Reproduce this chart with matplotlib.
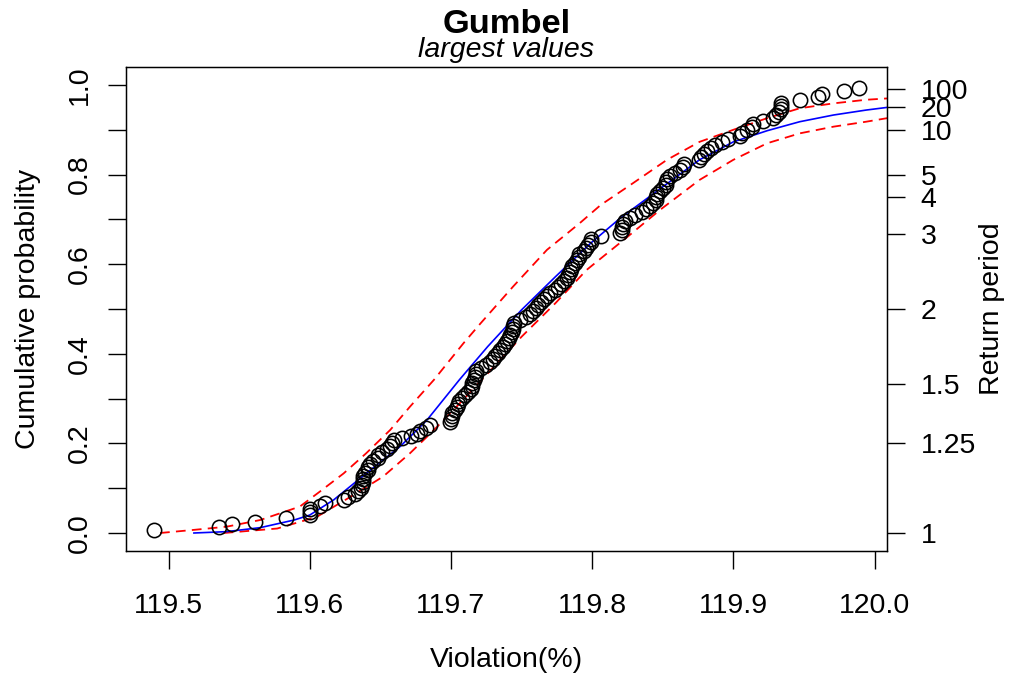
import numpy as np
import matplotlib
matplotlib.use('Agg')
import matplotlib.pyplot as plt

plt.rcParams['font.family'] = ['Liberation Sans', 'DejaVu Sans']
plt.rcParams['lines.scale_dashes'] = False

# observed violations (sorted) and their cumulative probability
violation = [119.490, 119.536, 119.545, 119.561, 119.583, 119.600, 119.600, 119.600, 119.607, 119.611,
             119.624, 119.627, 119.632, 119.634, 119.636, 119.637, 119.638, 119.638, 119.638, 119.639,
             119.641, 119.641, 119.643, 119.645, 119.648, 119.648, 119.651, 119.655, 119.657, 119.658,
             119.660, 119.665, 119.672, 119.676, 119.678, 119.682, 119.685, 119.699, 119.700, 119.701,
             119.701, 119.703, 119.704, 119.705, 119.706, 119.708, 119.710, 119.712, 119.714, 119.715,
             119.715, 119.716, 119.717, 119.718, 119.718, 119.721, 119.725, 119.728, 119.730, 119.731,
             119.733, 119.735, 119.737, 119.738, 119.740, 119.741, 119.742, 119.743, 119.744, 119.744,
             119.745, 119.749, 119.753, 119.756, 119.758, 119.760, 119.762, 119.764, 119.766, 119.768,
             119.770, 119.774, 119.776, 119.778, 119.780, 119.782, 119.783, 119.784, 119.785, 119.786,
             119.788, 119.789, 119.791, 119.791, 119.794, 119.796, 119.797, 119.799, 119.799, 119.806,
             119.820, 119.821, 119.821, 119.822, 119.823, 119.827, 119.830, 119.835, 119.838, 119.841,
             119.843, 119.845, 119.845, 119.846, 119.848, 119.850, 119.852, 119.852, 119.853, 119.855,
             119.859, 119.862, 119.864, 119.865, 119.876, 119.877, 119.879, 119.881, 119.884, 119.887,
             119.892, 119.896, 119.905, 119.906, 119.910, 119.913, 119.914, 119.921, 119.928, 119.930,
             119.932, 119.934, 119.934, 119.934, 119.947, 119.960, 119.963, 119.978, 119.989]
cum_prob = [0.007, 0.013, 0.019, 0.025, 0.033, 0.040, 0.047, 0.054, 0.060, 0.067,
            0.074, 0.080, 0.087, 0.094, 0.100, 0.107, 0.114, 0.121, 0.127, 0.134,
            0.141, 0.147, 0.154, 0.161, 0.167, 0.174, 0.181, 0.188, 0.194, 0.201,
            0.208, 0.212, 0.217, 0.221, 0.228, 0.234, 0.241, 0.248, 0.254, 0.261,
            0.268, 0.275, 0.281, 0.288, 0.295, 0.301, 0.308, 0.315, 0.321, 0.328,
            0.335, 0.342, 0.348, 0.355, 0.362, 0.368, 0.375, 0.382, 0.388, 0.395,
            0.402, 0.408, 0.415, 0.422, 0.429, 0.435, 0.442, 0.449, 0.455, 0.462,
            0.469, 0.475, 0.482, 0.489, 0.496, 0.502, 0.509, 0.516, 0.522, 0.529,
            0.536, 0.542, 0.549, 0.556, 0.563, 0.569, 0.576, 0.583, 0.589, 0.596,
            0.603, 0.609, 0.616, 0.623, 0.629, 0.636, 0.643, 0.650, 0.656, 0.663,
            0.670, 0.676, 0.683, 0.690, 0.696, 0.703, 0.710, 0.717, 0.723, 0.730,
            0.737, 0.743, 0.750, 0.757, 0.763, 0.770, 0.777, 0.783, 0.790, 0.797,
            0.804, 0.810, 0.817, 0.824, 0.833, 0.839, 0.846, 0.853, 0.859, 0.866,
            0.873, 0.879, 0.886, 0.893, 0.900, 0.906, 0.913, 0.920, 0.926, 0.933,
            0.940, 0.946, 0.953, 0.960, 0.967, 0.973, 0.980, 0.987, 0.993]

# fitted Gumbel curve (blue)
fit_x = [119.518, 119.541, 119.565, 119.589, 119.600, 119.617, 119.640, 119.664, 119.683, 119.706,
         119.726, 119.750, 119.774, 119.799, 119.820, 119.845, 119.876, 119.900, 119.924, 119.947,
         119.971, 119.994, 120.009]
fit_p = [0.000, 0.003, 0.012, 0.029, 0.040, 0.074, 0.133, 0.193, 0.252, 0.342,
         0.416, 0.498, 0.572, 0.647, 0.703, 0.761, 0.833, 0.873, 0.898, 0.918,
         0.933, 0.944, 0.950]

# confidence bands (red dashed)
upper_x = [119.494, 119.518, 119.541, 119.565, 119.593, 119.607, 119.624, 119.640, 119.657, 119.671,
           119.688, 119.709, 119.721, 119.744, 119.768, 119.791, 119.806, 119.829, 119.853, 119.876,
           119.900, 119.924, 119.947, 119.971, 119.994, 120.009]
upper_p = [0.000, 0.007, 0.014, 0.029, 0.059, 0.092, 0.133, 0.178, 0.230, 0.282,
           0.342, 0.424, 0.468, 0.550, 0.632, 0.691, 0.732, 0.781, 0.833, 0.873,
           0.900, 0.926, 0.948, 0.959, 0.967, 0.970]
lower_x = [119.539, 119.577, 119.605, 119.629, 119.652, 119.671, 119.688, 119.704, 119.726, 119.750,
           119.774, 119.796, 119.825, 119.848, 119.876, 119.900, 119.924, 119.947, 119.971, 119.994,
           120.009]
lower_p = [0.000, 0.010, 0.036, 0.081, 0.126, 0.178, 0.230, 0.282, 0.356, 0.438,
           0.513, 0.587, 0.661, 0.721, 0.788, 0.833, 0.870, 0.892, 0.907, 0.918,
           0.926]

x_ticks = [119.5, 119.6, 119.7, 119.8, 119.9, 120.0]
x_labels = ['119.5', '119.6', '119.7', '119.8', '119.9', '120.0']
y_ticks = [0.0, 0.1, 0.2, 0.3, 0.4, 0.5, 0.6, 0.7, 0.8, 0.9, 1.0]
y_labels = ['0.0', '', '0.2', '', '0.4', '', '0.6', '', '0.8', '', '1.0']
return_periods = [1, 1.25, 1.5, 2, 3, 4, 5, 10, 20, 100]
return_labels = ['1', '1.25', '1.5', '2', '3', '4', '5', '10', '20', '100']

W, H = 1011, 677
fig = plt.figure(figsize=(W / 100, H / 100), dpi=100)
ax = fig.add_axes([126 / W, 1 - 550.7 / H, (887 - 126) / W, (550.7 - 66.7) / H])

ax.plot(upper_x, upper_p, color='red', lw=1.3, dashes=(7, 4.5))
ax.plot(lower_x, lower_p, color='red', lw=1.3, dashes=(7, 4.5))
ax.plot(fit_x, fit_p, color='blue', lw=1.2)
ax.plot(violation, cum_prob, 'o', mfc='none', mec='black', ms=10.3, mew=1.15)

ax.set_xlim(119.4699, 120.0088)
ax.set_ylim(-0.0395, 1.0408)

ax.set_xticks(x_ticks)
ax.set_xticklabels(x_labels)
ax.set_yticks(y_ticks)
ax.set_yticklabels(y_labels)
ax.tick_params(axis='both', length=12.7, width=1.0, labelsize=20.5, color='black')
ax.tick_params(axis='x', pad=17.5)
ax.tick_params(axis='y', pad=11.5)
plt.setp(ax.get_yticklabels(), rotation=90, va='center')
for s in ax.spines.values():
    s.set_linewidth(1.0)

# return period axis on the right
ax2 = ax.twinx()
ax2.set_ylim(ax.get_ylim())
ax2.set_yticks([1 - 1 / T for T in return_periods])
ax2.set_yticklabels(return_labels)
ax2.tick_params(axis='y', length=12.7, width=1.0, labelsize=20.5, pad=11.5)

# titles and axis labels
cx = (126 + 887) / 2 / W
fig.text(cx, 1 - 33 / H, 'Gumbel', ha='center', va='baseline', fontsize=24.8, fontweight='bold')
fig.text(cx, 1 - 57 / H, 'largest values', ha='center', va='baseline', fontsize=20.5, style='italic')
fig.text(cx, 1 - 667 / H, 'Violation(%)', ha='center', va='baseline', fontsize=20.5)
fig.text(28 / W, 1 - 308.7 / H, 'Cumulative probability', rotation=90, ha='center', va='center', fontsize=20.5)
fig.text(992 / W, 1 - 308.7 / H, 'Return period', rotation=90, ha='center', va='center', fontsize=20.5)

fig.savefig('out.png', dpi=100)
